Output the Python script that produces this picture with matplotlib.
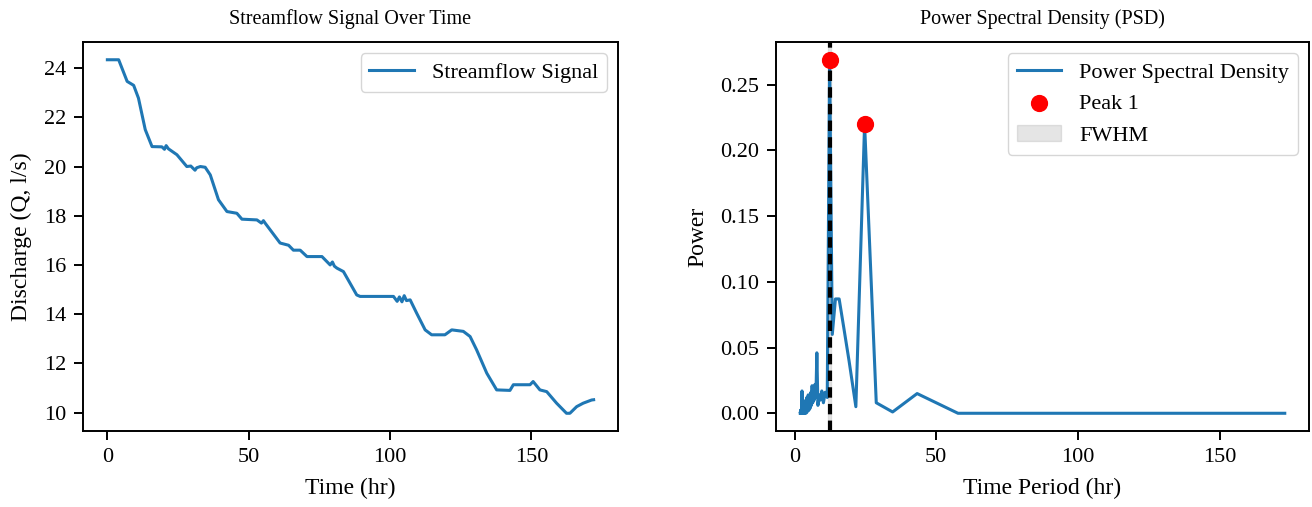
import matplotlib
matplotlib.use("Agg")
import matplotlib.pyplot as plt

plt.rcParams["font.family"] = ["Liberation Serif", "DejaVu Serif"]
plt.rcParams["font.size"] = 16
plt.rcParams["axes.linewidth"] = 1.4
for ax_name in ("xtick", "ytick"):
    plt.rcParams[f"{ax_name}.major.size"] = 6.5
    plt.rcParams[f"{ax_name}.major.width"] = 1.4
    plt.rcParams[f"{ax_name}.major.pad"] = 5.5

# streamflow readings (hr, l/s)
time_hr = [0, 4, 7, 9.3, 11, 13.4, 15.8, 19.3, 20.2, 20.8, 21.6, 24.6, 28.1, 29.5, 31, 31.6,
           32.9, 34.6, 36.4, 39.3, 42.3, 45.8, 47.6, 52.9, 54.5, 55.2, 55.8, 61.1, 64.1, 65.8,
           68.2, 70.6, 75.9, 78.8, 79.6, 80.3, 81.2, 83.5, 88.2, 89.4, 101.2, 102.5, 103.3,
           104.2, 105.0, 105.8, 107.1, 109.4, 112.4, 114.7, 119.4, 121.8, 125.9, 128.3, 130.6,
           134.2, 137.7, 142.4, 143.6, 149.5, 150.6, 153, 155.4, 158.9, 162.4, 163.6, 166,
           168.3, 171.3, 172]
discharge = [24.34, 24.34, 23.46, 23.3, 22.78, 21.5, 20.81, 20.8, 20.7, 20.85, 20.72, 20.48,
             20.0, 20.02, 19.85, 19.95, 20.0, 19.97, 19.66, 18.65, 18.17, 18.1, 17.86, 17.83,
             17.7, 17.8, 17.7, 16.89, 16.8, 16.6, 16.6, 16.34, 16.34, 16.0, 16.12, 15.95, 15.87,
             15.73, 14.78, 14.72, 14.72, 14.52, 14.7, 14.5, 14.75, 14.55, 14.58, 14.04, 13.36,
             13.16, 13.16, 13.36, 13.3, 13.09, 12.55, 11.6, 10.92, 10.9, 11.13, 11.13, 11.26,
             10.92, 10.85, 10.38, 9.97, 9.97, 10.24, 10.38, 10.51, 10.52]

# PSD, in order of harmonic k = 1, 2, ... (period = 173 / k)
period_hr = [173.0, 86.5, 57.67, 43.25, 34.6, 28.83, 24.71, 21.63, 19.22, 17.3, 15.73, 14.42,
             13.31, 12.36, 11.53, 10.81, 10.18, 9.61, 9.11, 8.65, 8.24, 7.86, 7.52, 7.21, 6.92,
             6.65, 6.41, 6.18, 5.97, 5.77, 5.58, 5.41, 5.24, 5.09, 4.94, 4.81, 4.68, 4.55, 4.44,
             4.33, 4.22, 4.12, 4.02, 3.93, 3.84, 3.76, 3.68, 3.6, 3.53, 3.46, 3.39, 3.33, 3.26,
             3.2, 3.15, 3.09, 3.04, 2.98, 2.93, 2.88, 2.84, 2.79, 2.75, 2.7, 2.66, 2.62, 2.58,
             2.54, 2.51, 2.47, 2.44, 2.4, 2.37, 2.34, 2.31, 2.28, 2.25, 2.22, 2.19, 2.16, 2.14,
             2.11, 2.08, 2.06, 2.04, 2.01]
power = [0.0, 0.0, 0.0, 0.015, 0.001, 0.008, 0.220, 0.005, 0.040, 0.066, 0.087, 0.087,
         0.060, 0.269, 0.012, 0.016, 0.008, 0.017, 0.010, 0.014, 0.006, 0.046, 0.012, 0.022,
         0.010, 0.020, 0.008, 0.021, 0.006, 0.016, 0.004, 0.013, 0.003, 0.011, 0.002, 0.014,
         0.004, 0.009, 0.001, 0.012, 0.003, 0.008, 0.0, 0.010, 0.002, 0.006, 0.001, 0.009,
         0.0, 0.005, 0.002, 0.007, 0.0, 0.004, 0.001, 0.006, 0.0, 0.003, 0.001, 0.005, 0.0,
         0.004, 0.0, 0.003, 0.001, 0.017, 0.002, 0.004, 0.0, 0.003, 0.001, 0.002, 0.0, 0.003,
         0.0, 0.002, 0.001, 0.002, 0.0, 0.002, 0.0, 0.001, 0.0, 0.001, 0.0, 0.0]

peak_periods = [12.36, 24.71]
peak_powers = [0.269, 0.220]
fwhm_lo, fwhm_hi = 11.8, 12.9

fig = plt.figure(figsize=(13.12, 5.07), dpi=100)
ax1 = fig.add_axes([0.0633, 0.150, 0.4077, 0.767])
ax2 = fig.add_axes([0.5915, 0.150, 0.4062, 0.767])

# left: raw signal
ax1.plot(time_hr, discharge, color="#1f77b4", linewidth=2.2, label="Streamflow Signal")
ax1.set_title("Streamflow Signal Over Time", fontsize=14.5, pad=13)
ax1.set_xlabel("Time (hr)", fontsize=17, labelpad=8)
ax1.set_ylabel("Discharge (Q, l/s)", fontsize=17, labelpad=9)
ax1.set_xticks([0, 50, 100, 150])
ax1.set_yticks([10, 12, 14, 16, 18, 20, 22, 24])
ax1.tick_params(labelsize=16)
ax1.legend(loc="upper right", fontsize=16)

# right: PSD
ax2.plot(period_hr, power, color="#1f77b4", linewidth=2.2, label="Power Spectral Density")
ax2.scatter(peak_periods, peak_powers, color="red", s=130, zorder=5, label="Peak 1")
ax2.axvspan(fwhm_lo, fwhm_hi, color="gray", alpha=0.2, label="FWHM")
ax2.axvline(peak_periods[0], color="black", linestyle="--", linewidth=3, dashes=(2.5, 1.5))
ax2.set_title("Power Spectral Density (PSD)", fontsize=14.5, pad=13)
ax2.set_xlabel("Time Period (hr)", fontsize=17, labelpad=8)
ax2.set_ylabel("Power", fontsize=17, labelpad=9)
ax2.set_xticks([0, 50, 100, 150])
ax2.tick_params(labelsize=16)
ax2.legend(loc="upper right", fontsize=16)

plt.savefig("out.png", dpi=100)
